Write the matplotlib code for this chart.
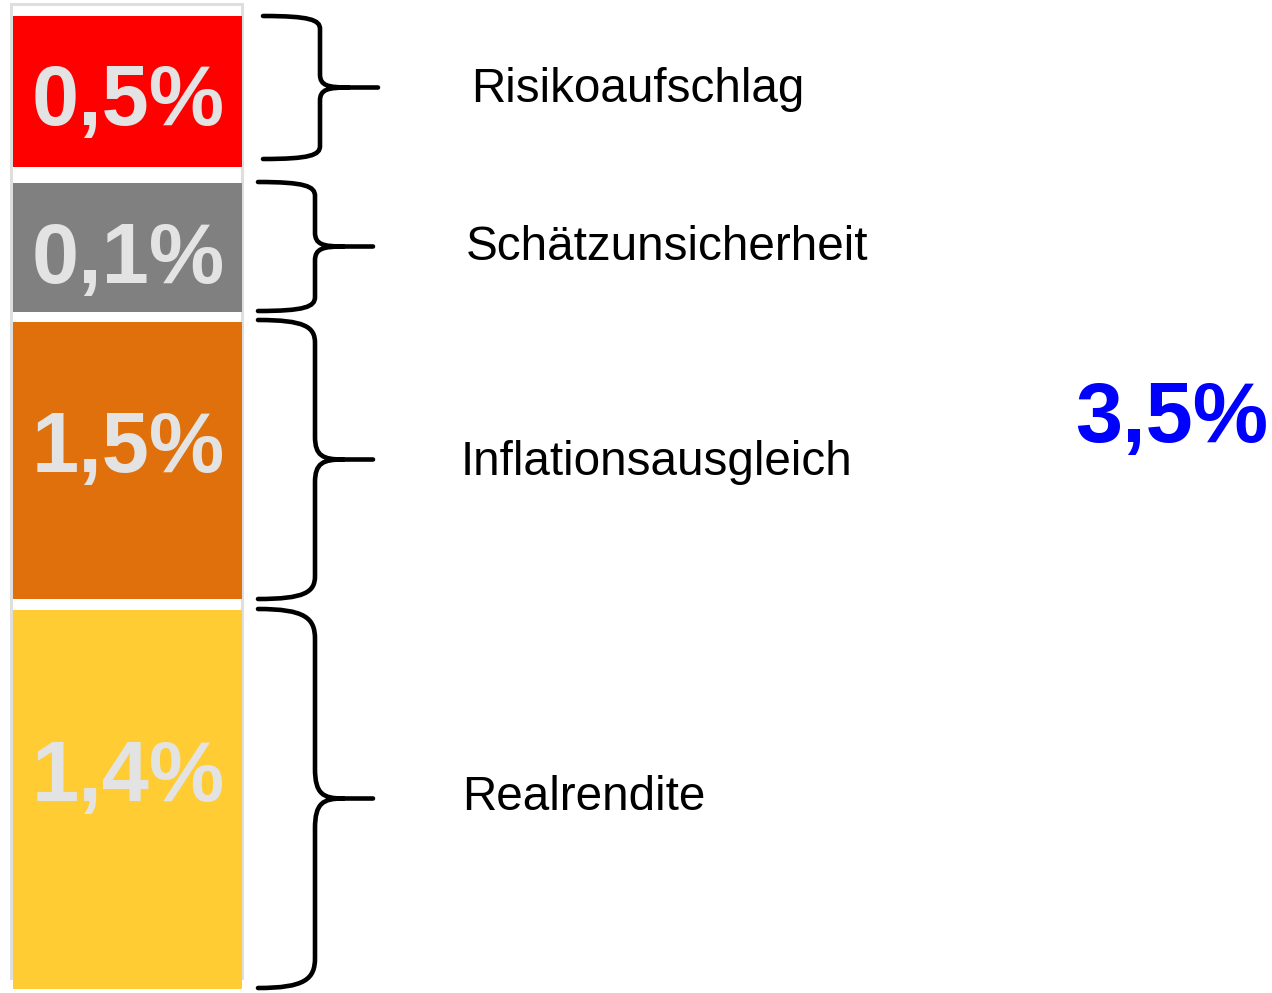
import matplotlib
matplotlib.use("Agg")
import matplotlib.pyplot as plt
from matplotlib.path import Path
from matplotlib.patches import PathPatch, Rectangle

# ---- data ----
components = ["Realrendite", "Inflationsausgleich", "Schätzunsicherheit", "Risikoaufschlag"]
values = [1.4, 1.5, 0.1, 0.5]
colors = ["#FFCC33", "#E0700C", "#808080", "#FF0000"]

# ---- layout (pixel coordinates, y downward) ----
seg_top = [610, 322, 183, 16]
seg_bottom = [989, 599, 312, 167]
value_label_baseline = [801, 472, 283, 125]
brace_top = [609, 320, 182, 16]
brace_bottom = [988, 599, 311, 159]
brace_left = [258, 258, 258, 263]
brace_vert = [315, 315, 315, 320]
brace_tip = [373, 373, 373, 378]
brace_r = [30, 23, 14, 13]
text_x = [462, 461, 466, 471]
text_baseline = [810, 475, 260, 102]

W, H = 1272, 993
fig = plt.figure(figsize=(W / 100, H / 100), dpi=100)
ax = fig.add_axes([0, 0, 1, 1])
ax.set_xlim(0, W)
ax.set_ylim(H, 0)
ax.axis("off")

FONT = "Liberation Sans"

def fmt(v):
    return f"{v:.1f}".replace(".", ",") + "%"

# light frame behind the stack
ax.add_patch(Rectangle((10.5, 4), 231.5, 974, facecolor="white",
                       edgecolor="#DEDEDE", lw=2.2, zorder=1))

bar_left, bar_right = 13, 242
for v, c, t, b, yb in zip(values, colors, seg_top, seg_bottom, value_label_baseline):
    ax.bar((bar_left + bar_right) / 2, b - t, bottom=t, width=bar_right - bar_left,
           color=c, edgecolor="none", zorder=2)
    ax.text(128, yb, fmt(v), ha="center", va="baseline", fontsize=61,
            fontweight="bold", color="#E3E3E3", family=FONT, zorder=3)

def brace(xl, xv, xt, yt, yb, r):
    ym = (yt + yb) / 2
    verts = [
        (xl, yt), (xv - 10, yt), (xv, yt + r * 0.3), (xv, yt + r),
        (xv, ym - r),
        (xv, ym - r * 0.15), (xv + 8, ym), (xv + 28, ym),
        (xt, ym),
        (xv + 28, ym), (xv + 8, ym), (xv, ym + r * 0.15), (xv, ym + r),
        (xv, yb - r),
        (xv, yb - r * 0.3), (xv - 10, yb), (xl, yb),
    ]
    codes = [Path.MOVETO, Path.CURVE4, Path.CURVE4, Path.CURVE4,
             Path.LINETO,
             Path.CURVE4, Path.CURVE4, Path.CURVE4,
             Path.LINETO,
             Path.MOVETO, Path.CURVE4, Path.CURVE4, Path.CURVE4,
             Path.LINETO,
             Path.CURVE4, Path.CURVE4, Path.CURVE4]
    ax.add_patch(PathPatch(Path(verts, codes), facecolor="none", edgecolor="black",
                           lw=3.3, capstyle="round", joinstyle="round", zorder=4))

for i in range(len(components)):
    brace(brace_left[i], brace_vert[i], brace_tip[i], brace_top[i], brace_bottom[i], brace_r[i])
    ax.text(text_x[i], text_baseline[i], components[i], ha="left", va="baseline",
            fontsize=34.3, color="black", family=FONT, zorder=4)

ax.text(1268, 442, fmt(sum(values)), ha="right", va="baseline", fontsize=61,
        fontweight="bold", color="#0000FF", family=FONT, zorder=4)

fig.savefig("out.png", dpi=100)
